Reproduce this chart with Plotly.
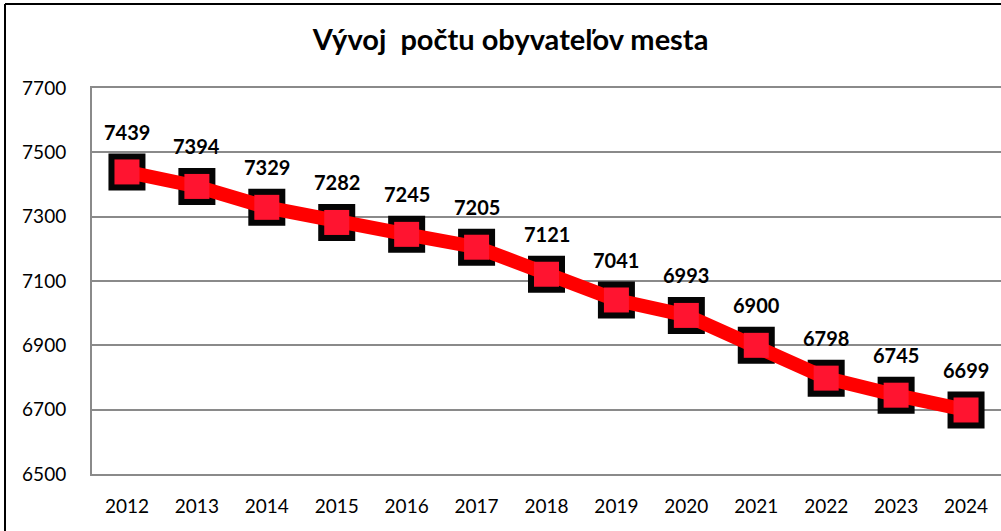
import plotly.graph_objects as go

years = ["2012", "2013", "2014", "2015", "2016", "2017", "2018",
         "2019", "2020", "2021", "2022", "2023", "2024"]
population = [7439, 7394, 7329, 7282, 7245, 7205, 7121,
              7041, 6993, 6900, 6798, 6745, 6699]
y_ticks = [6500, 6700, 6900, 7100, 7300, 7500, 7700]
title_text = "Vývoj  počtu obyvateľov mesta"

FONT = "Lato, 'Open Sans', sans-serif"

fig = go.Figure()

# black outer marker (under the line)
fig.add_trace(go.Scatter(
    x=years, y=population, mode="markers",
    marker=dict(symbol="square", size=37, color="#050505",
                line=dict(width=0)),
    hoverinfo="skip", showlegend=False))
# red line
fig.add_trace(go.Scatter(
    x=years, y=population, mode="lines",
    line=dict(color="#ff0000", width=14),
    hoverinfo="skip", showlegend=False))
# red inner marker
fig.add_trace(go.Scatter(
    x=years, y=population, mode="markers",
    marker=dict(symbol="square", size=25, color="#ff1430",
                line=dict(width=0)),
    showlegend=False))

for i, y in enumerate(population):
    fig.add_annotation(x=i, y=y, xref="x", yref="y", text=str(y), showarrow=False,
                       yshift=40, font=dict(family=FONT, size=20, color="#000000",
                                            weight="bold"))

fig.update_layout(
    width=1001, height=531,
    margin=dict(l=92, r=0, t=88, b=57),
    paper_bgcolor="white", plot_bgcolor="white",
    title=dict(text=title_text, x=0.51, xref="container", y=0.925, yref="container",
               xanchor="center", yanchor="middle",
               font=dict(family=FONT, size=29, color="#000000", weight="bold")),
    font=dict(family=FONT, size=19, color="#000000"),
)
fig.update_xaxes(type="category", range=[-0.5, 12.5], showgrid=False,
                 showline=True, mirror=True, linecolor="#8a8a8a", linewidth=2,
                 ticks="", ticklabelstandoff=14,
                 tickfont=dict(family=FONT, size=19))
fig.update_yaxes(range=[6500, 7700], tickvals=y_ticks, showgrid=True,
                 gridcolor="#8a8a8a", gridwidth=2, zeroline=False,
                 showline=True, linecolor="#8a8a8a", linewidth=2,
                 ticks="", ticklabelstandoff=20,
                 tickfont=dict(family=FONT, size=19))

# outer chart frame (top and left edges visible)
fig.add_shape(type="line", xref="paper", yref="paper",
              x0=(5 - 92) / 909, x1=1.01, y0=(474 - 4) / 386, y1=(474 - 4) / 386,
              line=dict(color="#000000", width=2))
fig.add_shape(type="line", xref="paper", yref="paper",
              x0=(5 - 92) / 909, x1=(5 - 92) / 909, y0=(474 - 4) / 386, y1=-0.2,
              line=dict(color="#000000", width=2))

fig.write_html("out.html", config={"displayModeBar": False},
               post_script="document.body.style.margin='0';document.body.style.overflow='hidden';")
